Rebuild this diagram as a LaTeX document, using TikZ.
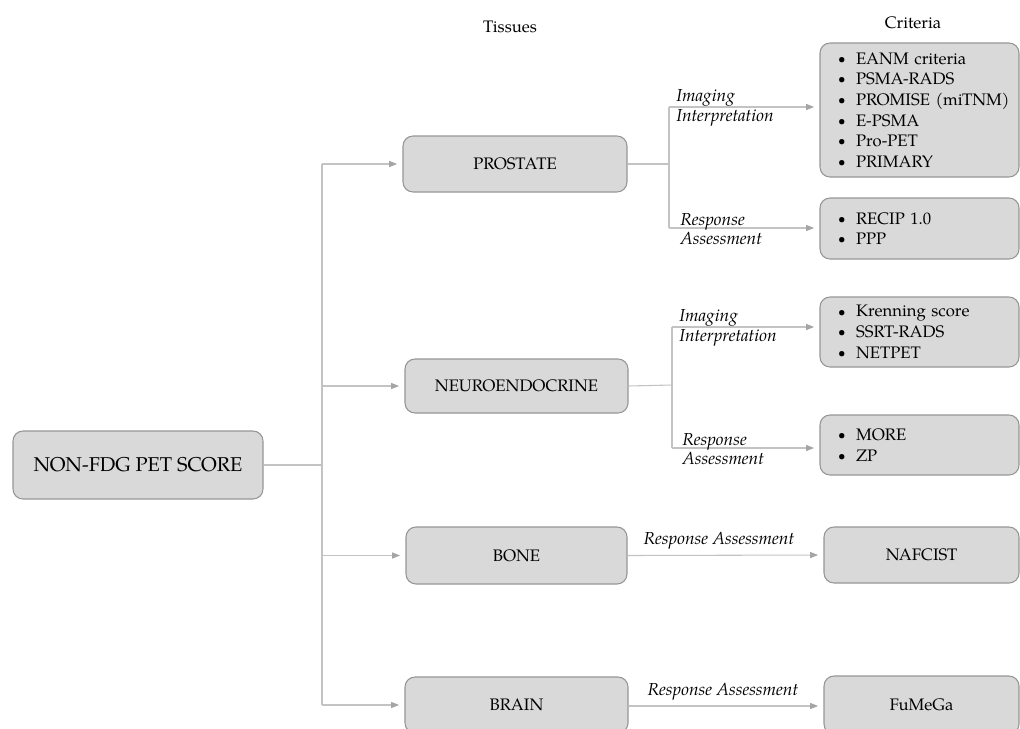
\documentclass[tikz,border=0pt]{standalone}
\usepackage{fontspec}
\setmainfont{TeX Gyre Pagella}
\usetikzlibrary{arrows.meta}
\definecolor{boxfill}{RGB}{217,217,217}
\definecolor{boxline}{RGB}{150,150,150}
\definecolor{conn}{RGB}{195,195,195}
\definecolor{tipc}{RGB}{165,165,165}
\newcommand{\itm}[1]{\mbox{\hspace*{6pt}\makebox[13.4pt][l]{\raisebox{0.6pt}{\fontsize{10}{10}\selectfont\textbullet}}#1}}
\begin{document}
\begin{tikzpicture}[x=0.75pt,y=-0.75pt,
  box/.style={draw=boxline, fill=boxfill, rounded corners=7.5pt, line width=0.8pt,
    font=\fontsize{12.5}{15}\selectfont, inner sep=0pt, align=center},
  crit/.style={box, align=left, font=\fontsize{12.5}{15.5}\selectfont, text width=134pt, minimum width=149.25pt},
  conline/.style={draw=conn, line width=0.8pt},
  arr/.style={conline, -{Triangle[length=6pt,width=4.5pt,color=tipc,fill=tipc]}, shorten >=4pt},
  lab/.style={font=\fontsize{13}{14.5}\selectfont\itshape, inner sep=0pt, align=left},
  head/.style={font=\fontsize{12.5}{15}\selectfont, inner sep=0pt}]
\useasboundingbox (0,0) rectangle (1020,728);
\clip (0,0) rectangle (1020,728);

% headers
\node[head] (hT) at (510,27) {Tissues};
\node[head] (hC) at (913,23) {Criteria};

% root
\node[box, minimum width=187.5pt, minimum height=51pt, font=\fontsize{15}{18}\selectfont] (root) at (138,465) {NON-FDG PET SCORE};

% tissues
\node[box, minimum width=168pt, minimum height=42pt] (prost) at (515,164) {PROSTATE};
\node[box, minimum width=167.25pt, minimum height=40.5pt] (neuro) at (516.5,386) {NEUROENDOCRINE};
\node[box, minimum width=165.75pt, minimum height=42.75pt] (bone) at (516.5,555.5) {BONE};
\node[box, minimum width=167.25pt, minimum height=42pt] (brain) at (516.5,705) {BRAIN};

% criteria
\node[crit, minimum height=100.5pt] (pc) at (919.5,110)
  {\itm{EANM criteria}\\ \itm{PSMA-RADS}\\ \itm{PROMISE (miTNM)}\\ \itm{E-PSMA}\\ \itm{Pro-PET}\\ \itm{PRIMARY}};
\node[crit, minimum height=45.75pt] (pr) at (919.5,228.5)
  {\itm{RECIP 1.0}\\ \itm{PPP}};
\node[crit, minimum height=52.5pt] (nc) at (919.5,332)
  {\itm{Krenning score}\\ \itm{SSRT-RADS}\\ \itm{NETPET}};
\node[crit, minimum height=45pt] (nr) at (919.5,445)
  {\itm{MORE}\\ \itm{ZP}};
\node[box, minimum width=146.25pt, minimum height=42pt] (naf) at (921.5,555) {NAFCIST};
\node[box, minimum width=146.25pt, minimum height=43.5pt] (fum) at (921.5,705) {FuMeGa};

% trunk
\coordinate (tr) at (322,465);
\draw[conline] (root.east) -- (tr);
\draw[conline] (tr |- prost.west) -- (tr |- brain.west);
\draw[arr] (tr |- prost.west) -- (prost.west);
\draw[arr] (tr |- neuro.west) -- (neuro.west);
\draw[arr] (tr |- bone.west) -- (bone.west);
\draw[arr] (tr |- brain.west) -- (brain.west);

% prostate branch
\coordinate (pj) at (669,164);
\coordinate (pI) at (669,107);
\coordinate (pR) at (669,228);
\draw[conline] (prost.east) -- (pj);
\draw[conline] (pI) -- (pR);
\draw[arr] (pI) -- (pI -| pc.west);
\draw[arr] (pR) -- (pR -| pr.west);
\node[lab, anchor=west] (pIl) at (676,108) {Imaging\\Interpretation};
\node[lab, anchor=west] (pRl) at (680,229) {Response\\Assessment};

% neuro branch
\coordinate (nj) at (672,385);
\coordinate (nI) at (672,327);
\coordinate (nR) at (672,448);
\draw[conline] (neuro.east) -- (nj);
\draw[conline] (nI) -- (nR);
\draw[arr] (nI) -- (nI -| nc.west);
\draw[arr] (nR) -- (nR -| nr.west);
\node[lab, anchor=west] (nIl) at (679,328) {Imaging\\Interpretation};
\node[lab, anchor=west] (nRl) at (682,449) {Response\\Assessment};

% bone and brain
\draw[arr] (bone.east) -- (naf.west);
\node[lab, anchor=south] (bl) at (719,550) {Response Assessment};
\draw[arr] (brain.east |- 0,706) -- (fum.west |- 0,706);
\node[lab, anchor=south] (brl) at (723,701) {Response Assessment};
\end{tikzpicture}
\end{document}
